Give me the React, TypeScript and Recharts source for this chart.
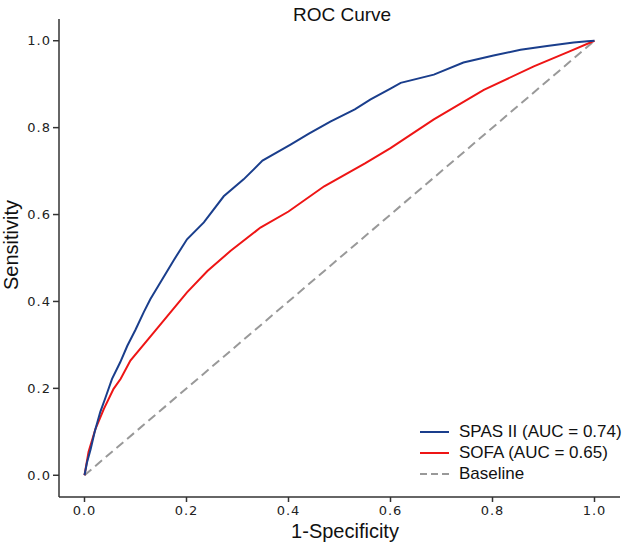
import React from "react";
import { LineChart, Line, XAxis, YAxis } from "recharts";

const spasX = [0, 0.005, 0.012, 0.02, 0.031, 0.04, 0.054, 0.07, 0.084, 0.1, 0.116, 0.129, 0.149, 0.175, 0.201, 0.234, 0.273, 0.312, 0.349, 0.404, 0.44, 0.482, 0.53, 0.561, 0.6, 0.62, 0.685, 0.743, 0.802, 0.855, 0.907, 0.959, 0.986, 1];
const spasY = [0, 0.03, 0.06, 0.1, 0.146, 0.175, 0.222, 0.26, 0.298, 0.335, 0.375, 0.405, 0.444, 0.495, 0.543, 0.582, 0.642, 0.681, 0.724, 0.761, 0.786, 0.814, 0.842, 0.865, 0.89, 0.903, 0.922, 0.95, 0.966, 0.979, 0.988, 0.996, 0.999, 1];

const sofaX = [0, 0.008, 0.0216, 0.038, 0.057, 0.071, 0.09, 0.136, 0.201, 0.241, 0.286, 0.345, 0.4, 0.47, 0.55, 0.6, 0.685, 0.783, 0.881, 0.95, 1];
const sofaY = [0, 0.054, 0.107, 0.153, 0.199, 0.222, 0.264, 0.329, 0.421, 0.47, 0.516, 0.57, 0.607, 0.665, 0.718, 0.753, 0.819, 0.887, 0.941, 0.975, 1];

const baseX = [0, 1];
const baseY = [0, 1];

const ticks = [0, 0.2, 0.4, 0.6, 0.8, 1.0];

const seriesNames = ["SPAS II (AUC = 0.74)", "SOFA (AUC = 0.65)", "Baseline"];
const colors = ["#1a3e8c", "#ee1515", "#999999"];

const toData = (xs: number[], ys: number[]) => xs.map((x, i) => ({ x, y: ys[i] }));

const spasData = toData(spasX, spasY);
const sofaData = toData(sofaX, sofaY);
const baseData = toData(baseX, baseY);

const FONT = "'Liberation Sans', Arial, sans-serif";
const TICKFONT = "'DejaVu Sans', sans-serif";

const LegendBox = () => (
  <div style={{ position: "absolute", left: 420, top: 421, fontFamily: FONT, fontSize: 17, color: "#111", lineHeight: "21px" }}>
    {seriesNames.map((n, i) => (
      <div key={n} style={{ display: "flex", alignItems: "center", height: 21 }}>
        <svg width={30} height={6} style={{ marginRight: 9 }}>
          <line x1={0} y1={3} x2={29} y2={3} stroke={colors[i]} strokeWidth={2} strokeDasharray={i === 2 ? "7 4" : undefined} />
        </svg>
        <span>{n}</span>
      </div>
    ))}
  </div>
);

export default function App() {
  return (
    <div style={{ position: "absolute", left: 0, top: 0, width: 630, height: 548, background: "#fff" }}>
      <LineChart width={630} height={548} margin={{ top: 19, right: 10, bottom: 0, left: 0 }}>
        <XAxis
          dataKey="x"
          type="number"
          domain={[-0.05, 1.05]}
          ticks={ticks}
          tickFormatter={(v: number) => v.toFixed(1)}
          height={51}
          stroke="#333"
          strokeWidth={1.5}
          tickSize={5}
          tickMargin={4}
          tick={{ fill: "#222", fontSize: 13, fontFamily: TICKFONT, letterSpacing: 1 }}
          allowDataOverflow
        />
        <YAxis
          dataKey="y"
          type="number"
          domain={[-0.05, 1.05]}
          ticks={ticks}
          tickFormatter={(v: number) => v.toFixed(1)}
          width={59}
          stroke="#333"
          strokeWidth={1.5}
          tickSize={6}
          tickMargin={2}
          tick={{ fill: "#222", fontSize: 13, fontFamily: TICKFONT, letterSpacing: 1 }}
          allowDataOverflow
        />
        <Line data={baseData} dataKey="y" type="linear" stroke={colors[2]} strokeWidth={2} strokeDasharray="9 5" dot={false} isAnimationActive={false} name={seriesNames[2]} />
        <Line data={sofaData} dataKey="y" type="linear" stroke={colors[1]} strokeWidth={2} dot={false} isAnimationActive={false} name={seriesNames[1]} />
        <Line data={spasData} dataKey="y" type="linear" stroke={colors[0]} strokeWidth={2} dot={false} isAnimationActive={false} name={seriesNames[0]} />
      </LineChart>
      <LegendBox />
      <svg width={630} height={548} style={{ position: "absolute", left: 0, top: 0, pointerEvents: "none" }}>
        <text x={342} y={21} textAnchor="middle" fontFamily={FONT} fontSize={19} fill="#111">ROC Curve</text>
        <text x={345} y={538} textAnchor="middle" fontFamily={FONT} fontSize={20} fill="#111">1-Specificity</text>
        <text x={18} y={245} textAnchor="middle" fontFamily={FONT} fontSize={20} fill="#111" transform="rotate(-90, 18, 245)">Sensitivity</text>
      </svg>
    </div>
  );
}
